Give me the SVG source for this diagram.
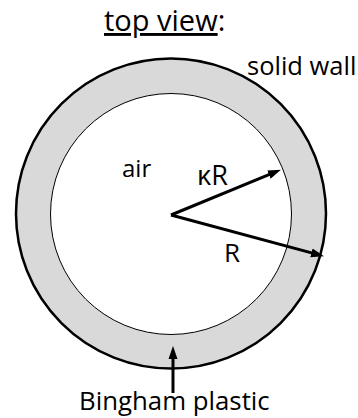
<svg xmlns="http://www.w3.org/2000/svg" width="358" height="418" viewBox="0 0 358 418">
<style>
text { font-family: "Open Sans", "Noto Sans", sans-serif; fill: #000; }
.lbl { font-size: 25px; }
.conn { stroke: #000; stroke-width: 3; fill: none; marker-end: url(#ah); }
</style>
<defs>
<marker id="ah" markerUnits="userSpaceOnUse" markerWidth="13" markerHeight="10" refX="4" refY="5" orient="auto">
<path d="M0,0.5 L13,5 L0,9.5 z" fill="#000"/>
</marker>
</defs>
<rect width="358" height="418" fill="#fff"/>
<text x="104" y="31" font-size="29"><tspan text-decoration="underline">top view</tspan>:</text>
<g id="wall">
<circle cx="171" cy="213.5" r="155" fill="#d9d9d9" stroke="#000" stroke-width="2.5"/>
</g>
<g id="air">
<circle cx="171" cy="214" r="120.5" fill="#fff" stroke="#000" stroke-width="1"/>
</g>
<g id="labels">
<text class="lbl" x="247" y="75" style="font-size:25.5px">solid wall</text>
<text class="lbl" x="122" y="177" style="font-size:24px">air</text>
<text class="lbl" x="197" y="185" style="font-size:27px">κR</text>
<text class="lbl" x="224" y="262" style="font-size:26px">R</text>
<text class="lbl" x="79" y="410" style="font-size:25.8px">Bingham plastic</text>
</g>
<g id="connectors">
<line class="conn" x1="171" y1="215" x2="272.6" y2="173.1"/>
<line class="conn" x1="171" y1="215" x2="315.3" y2="253.9"/>
<line class="conn" x1="173" y1="393" x2="173" y2="355"/>
</g>
</svg>
